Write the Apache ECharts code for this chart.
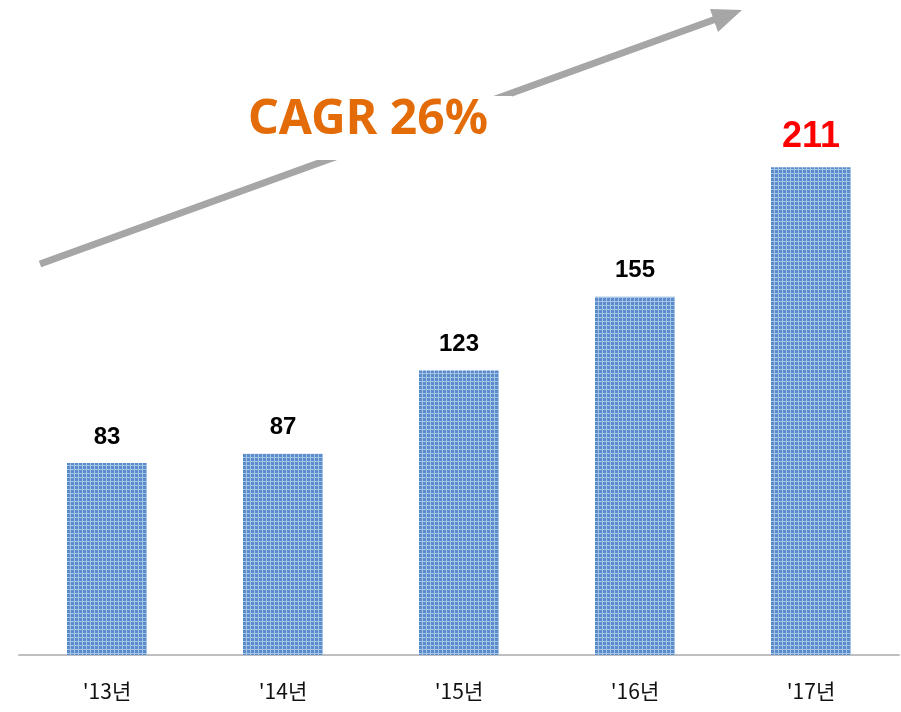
<!DOCTYPE html>
<html>
<head>
<meta charset="utf-8">
<script src="https://cdn.jsdelivr.net/npm/echarts@6/dist/echarts.min.js"></script>
<style>
html,body{margin:0;padding:0;background:#fff;}
#chart{width:901px;height:712px;}
</style>
</head>
<body>
<div id="chart"></div>
<script>
var myChart = echarts.init(document.getElementById('chart'));

var years = ["'13년", "'14년", "'15년", "'16년", "'17년"];
var values = [83, 87, 123, 155, 211];
var cagrText = 'CAGR 26%';

// 막대 무늬
var pat = document.createElement('canvas');
pat.width = 4; pat.height = 4;
var ctx = pat.getContext('2d');
ctx.fillStyle = '#5a8ccb';
ctx.fillRect(0, 0, 4, 4);
ctx.fillStyle = '#a7c3e6';
ctx.fillRect(0, 1, 4, 1);
ctx.fillRect(2, 0, 1, 4);

var barData = values.map(function (v, i) {
    var last = i === values.length - 1;
    return {
        value: v,
        label: last ? {color: '#ff0000', fontSize: 36, distance: 12} : {}
    };
});

var option = {
    animation: false,
    grid: {left: 19, right: 2, top: 77, bottom: 57},
    xAxis: {
        type: 'category',
        data: years,
        axisLine: {lineStyle: {color: '#bfbfbf', width: 2}},
        axisTick: {show: false},
        axisLabel: {
            color: '#111',
            fontSize: 21,
            fontFamily: 'Noto Sans CJK KR',
            margin: 26
        }
    },
    yAxis: {
        type: 'value',
        min: 0,
        max: 250,
        show: false,
        splitLine: {show: false}
    },
    series: [{
        type: 'bar',
        data: barData,
        barWidth: 80,
        itemStyle: {color: {image: pat, repeat: 'repeat'}},
        label: {
            show: true,
            position: 'top',
            distance: 14,
            color: '#000',
            fontSize: 24,
            fontWeight: 'bold',
            fontFamily: 'Liberation Sans'
        }
    }],
    graphic: [
        {
            type: 'line',
            shape: {x1: 40, y1: 264, x2: 716, y2: 19},
            style: {stroke: '#a6a6a6', lineWidth: 7}
        },
        {
            type: 'polygon',
            shape: {points: [[742, 10], [718, 32], [710, 9]]},
            style: {fill: '#a6a6a6'}
        },
        {
            type: 'text',
            left: 242,
            top: 96,
            style: {
                text: cagrText,
                fill: '#e36c09',
                font: 'bold 48px "Noto Sans"',
                backgroundColor: '#fff',
                padding: [0, 24, 16, 6]
            }
        }
    ]
};

myChart.setOption(option);
</script>
</body>
</html>
